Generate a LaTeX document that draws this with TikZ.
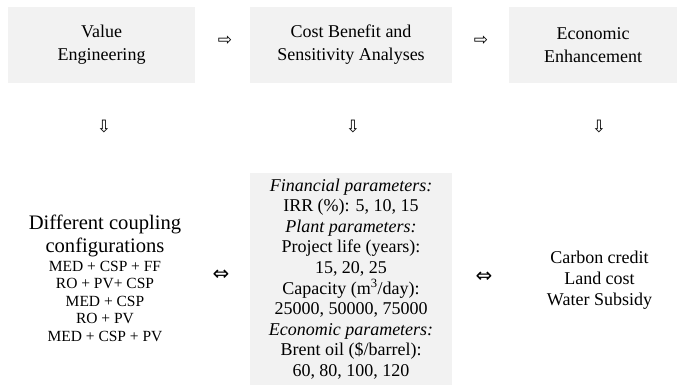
\documentclass[tikz,border=0pt]{standalone}
\usepackage{fontspec}
\setmainfont{Liberation Serif}
\newfontfamily\symfont{DejaVu Sans}
\definecolor{boxgray}{RGB}{242,242,242}
\begin{document}
\begin{tikzpicture}[x=1pt,y=-1pt,
  topbox/.style={fill=boxgray, draw=none, minimum height=76pt, inner sep=0pt,
    align=center, font=\fontsize{18}{23}\selectfont},
  parambox/.style={fill=boxgray, draw=none, inner sep=0pt,
    align=center, font=\fontsize{18}{20.6}\selectfont},
  bigtext/.style={align=center, inner sep=0pt, font=\fontsize{20.6}{23}\selectfont},
  listtext/.style={align=center, inner sep=0pt, font=\fontsize{15.5}{17.5}\selectfont},
  sidetext/.style={align=center, inner sep=0pt, font=\fontsize{18}{21}\selectfont},
  sym/.style={inner sep=0pt, font=\symfont\fontsize{17}{17}\selectfont},
  symw/.style={inner sep=0pt, font=\symfont\fontsize{20}{20}\selectfont}]
\useasboundingbox (0,0) rectangle (677,385);

% top row
\node[topbox, minimum width=187pt] (ve) at (101.5,45) {Value\\Engineering};
\node[topbox, minimum width=202pt] (cb) at (351,45) {Cost Benefit and\\Sensitivity Analyses};
\node[topbox, minimum width=168pt] (ee) at (593,45) {Economic\\Enhancement};

\node[sym] (r1) at (225,41) {⇨};
\node[sym] (r2) at (481,41) {⇨};

\node[sym] (d1) at (104,127) {⇩};
\node[sym] (d2) at (353,127) {⇩};
\node[sym] (d3) at (599,127) {⇩};

% middle parameter box
\node[parambox, minimum width=202pt, minimum height=212pt] (par) at (351,279)
  {\textit{Financial parameters:}\\
   IRR (\%): 5, 10, 15\\
   \textit{Plant parameters:}\\
   Project life (years):\\
   15, 20, 25\\
   Capacity (m\textsuperscript{3}/day):\\
   25000, 50000, 75000\\
   \textit{Economic parameters:}\\
   Brent oil (\$/barrel):\\
   60, 80, 100, 120};

% left text
\node[bigtext] (dc) at (105,235.7) {Different coupling\\configurations};
\node[listtext] (cfg) at (105,301) {MED + CSP + FF\\RO + PV+ CSP\\MED + CSP\\RO + PV\\MED + CSP + PV};

% right text
\node[sidetext] (ec) at (599.5,280) {Carbon credit\\Land cost\\Water Subsidy};

\node[symw] (l1) at (221,275) {⇔};
\node[symw] (l2) at (484,277) {⇔};
\end{tikzpicture}
\end{document}
